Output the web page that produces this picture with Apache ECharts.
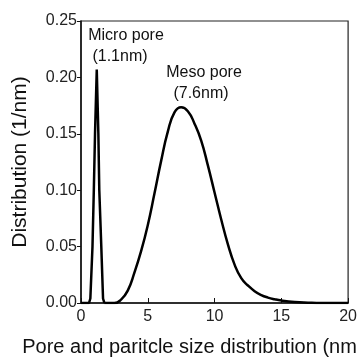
<!DOCTYPE html>
<html>
<head>
<meta charset="utf-8">
<script src="https://cdn.jsdelivr.net/npm/echarts@6/dist/echarts.min.js"></script>
<style>
  html, body { margin: 0; padding: 0; background: #fff; }
  #chart { width: 360px; height: 362px; }
</style>
</head>
<body>
<div id="chart"></div>
<script>
// micro pore peak (nm, 1/nm)
const microX = [0, 0.6, 0.7, 0.86, 0.96, 1.05, 1.18, 1.30, 1.37, 1.52, 1.65, 1.75];
const microY = [0, 0, 0.004, 0.05, 0.10, 0.15, 0.207, 0.15, 0.10, 0.05, 0.004, 0];

// meso pore peak (nm, 1/nm)
const mesoX = [1.75, 2.5, 3.0, 3.5, 4.0, 4.5, 5.0, 5.5, 6.0, 6.5, 7.0, 7.5, 8.0, 8.5, 9.0, 9.5, 10.0, 10.5, 11.0, 11.5, 12.0, 12.5, 13.0, 13.5, 14.0, 14.5, 15.0, 16.0, 17.0, 18.0, 20.0];
const mesoY = [0, 0, 0.003, 0.011, 0.027, 0.046, 0.069, 0.097, 0.126, 0.152, 0.169, 0.1735, 0.170, 0.159, 0.144, 0.122, 0.098, 0.074, 0.052, 0.034, 0.022, 0.0155, 0.0105, 0.007, 0.0048, 0.0033, 0.0022, 0.0009, 0.0003, 0, 0];

const xTicks = [0, 5, 10, 15, 20];
const yTicks = [0, 0.05, 0.10, 0.15, 0.20, 0.25];

const font = 'Liberation Sans, Arial, sans-serif';

const chart = echarts.init(document.getElementById('chart'));

chart.setOption({
    animation: false,
    grid: {
        left: 81, right: 7, top: 21, bottom: 56,
        show: true,
        borderColor: '#222',
        borderWidth: 1.2
    },
    xAxis: {
        type: 'value',
        min: xTicks[0],
        max: xTicks[xTicks.length - 1],
        interval: 5,
        name: 'Pore and paritcle size distribution (nm',
        nameLocation: 'middle',
        nameGap: 34,
        nameTextStyle: { fontFamily: font, fontSize: 20, color: '#111', padding: [0, 50, 0, 0] },
        axisLine: { lineStyle: { color: '#111', width: 1.5 } },
        axisTick: { inside: true, length: 5, lineStyle: { color: '#111' } },
        axisLabel: { fontFamily: font, fontSize: 16, color: '#222', margin: 6 },
        splitLine: { show: false }
    },
    yAxis: {
        type: 'value',
        min: yTicks[0],
        max: yTicks[yTicks.length - 1],
        interval: 0.05,
        name: 'Distribution (1/nm)',
        nameLocation: 'middle',
        nameGap: 50,
        nameTextStyle: { fontFamily: font, fontSize: 21, color: '#111' },
        axisLine: { show: true, lineStyle: { color: '#111', width: 1.5 } },
        axisTick: { show: true, length: 4, lineStyle: { color: '#111' } },
        axisLabel: {
            fontFamily: font, fontSize: 16, color: '#222', margin: 4,
            formatter: v => v.toFixed(2)
        },
        splitLine: { show: false }
    },
    series: [
        {
            type: 'line',
            data: microX.map((x, i) => [x, microY[i]]),
            showSymbol: false,
            lineStyle: { color: '#000', width: 2.5 }
        },
        {
            type: 'line',
            data: mesoX.map((x, i) => [x, mesoY[i]]),
            showSymbol: false,
            smooth: 0.5,
            lineStyle: { color: '#000', width: 2.5 }
        }
    ],
    graphic: [
        { type: 'text', x: 126, y: 36, style: { text: 'Micro pore', font: '16px ' + font, fill: '#111', textAlign: 'center', textVerticalAlign: 'middle' } },
        { type: 'text', x: 120, y: 57, style: { text: '(1.1nm)', font: '16px ' + font, fill: '#111', textAlign: 'center', textVerticalAlign: 'middle' } },
        { type: 'text', x: 204, y: 73, style: { text: 'Meso pore', font: '16px ' + font, fill: '#111', textAlign: 'center', textVerticalAlign: 'middle' } },
        { type: 'text', x: 201, y: 94, style: { text: '(7.6nm)', font: '16px ' + font, fill: '#111', textAlign: 'center', textVerticalAlign: 'middle' } }
    ]
});
</script>
</body>
</html>
